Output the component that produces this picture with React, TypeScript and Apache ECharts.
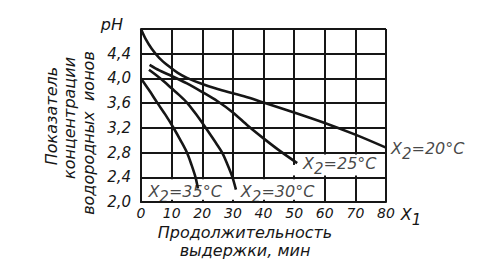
import { useEffect, useRef } from "react";
import * as echarts from "echarts";

// pH of the hydrogen-ion concentration vs. holding time X1 (min) at X2 temperatures
const time20 = [0, 1.5, 3.5, 6, 9, 12, 15, 20, 25, 30, 35, 40, 50, 60, 70, 80];
const ph20 = [4.8, 4.64, 4.48, 4.33, 4.2, 4.09, 4.01, 3.91, 3.83, 3.76, 3.69, 3.61, 3.45, 3.28, 3.09, 2.88];

const time25 = [2.8, 6, 10, 15, 20, 25, 30, 35, 40, 45, 51];
const ph25 = [4.22, 4.13, 4.04, 3.92, 3.78, 3.63, 3.45, 3.23, 3.03, 2.84, 2.63];

const time30 = [2.6, 5, 7.5, 10, 12.5, 15, 18, 21, 24, 26.5, 28.3, 29.8, 31];
const ph30 = [4.14, 4.05, 3.95, 3.84, 3.73, 3.61, 3.42, 3.21, 2.99, 2.8, 2.6, 2.41, 2.2];

const time35 = [0, 2.5, 5.4, 8, 10.5, 13, 15, 16.5, 17.8, 18.6];
const ph35 = [4.0, 3.82, 3.6, 3.41, 3.21, 2.99, 2.8, 2.6, 2.4, 2.22];

const temperatures = [35, 30, 25, 20];

const FONT = "'DejaVu Sans', 'Liberation Sans', sans-serif";
const INK = "#161616";

const pairs = (xs: number[], ys: number[]) => xs.map((x, i) => [x, ys[i]]);

const subRich = {
  m: { fontSize: 16, fontFamily: FONT, fontStyle: "italic", color: INK, lineHeight: 17, verticalAlign: "top" },
  s: { fontSize: 15, fontFamily: FONT, fontStyle: "italic", color: INK, lineHeight: 17, padding: [6, 0, 0, 0], verticalAlign: "top" },
};

const tempLabel = (t: number) => `{m|X}{s|2}{m|=${t}°C}`;

export default function App() {
  const ref = useRef<HTMLDivElement>(null);

  useEffect(() => {
    if (!ref.current) return;
    const chart = echarts.init(ref.current, null, { renderer: "svg" });

    const curve = (xs: number[], ys: number[]) => ({
      type: "line",
      data: pairs(xs, ys),
      smooth: 0.3,
      symbol: "none",
      z: 4,
      lineStyle: { color: INK, width: 2.6 },
    });

    const italic = { fontFamily: FONT, fontStyle: "italic", color: INK };
    const rotatedTitle = (text: string, x: number, y: number) => ({
      type: "text",
      x,
      y,
      rotation: Math.PI / 2,
      style: { text, font: `italic 16px ${FONT}`, fill: INK, align: "center", verticalAlign: "middle" },
    });

    chart.setOption({
      animation: false,
      backgroundColor: "#ffffff",
      grid: { left: 141, right: 97, top: 29, bottom: 64 },
      xAxis: {
        type: "value",
        min: 0,
        max: 80,
        interval: 10,
        axisLine: { show: true, onZero: false, lineStyle: { color: INK, width: 2 } },
        axisTick: { show: false },
        splitLine: { show: true, lineStyle: { color: INK, width: 2 } },
        axisLabel: { ...italic, fontSize: 14, margin: 3, lineHeight: 15 },
        name: "{m|X}{s|1}",
        nameLocation: "end",
        nameGap: 10,
        nameTextStyle: { rich: subRich, verticalAlign: "top", align: "left", padding: [4, 0, 0, 0] },
      },
      yAxis: {
        type: "value",
        min: 2.0,
        max: 4.8,
        interval: 0.4,
        axisLine: { show: true, lineStyle: { color: INK, width: 2 } },
        axisTick: { show: false },
        splitLine: { show: true, lineStyle: { color: INK, width: 2 } },
        axisLabel: {
          ...italic,
          fontSize: 15,
          margin: 10,
          formatter: (v: number) => (v > 4.5 ? "" : v.toFixed(1).replace(".", ",")),
        },
        name: "pH",
        nameLocation: "end",
        nameGap: 5,
        nameTextStyle: { ...italic, fontSize: 16, align: "right", verticalAlign: "middle", padding: [0, 18, 0, 0] },
      },
      series: [
        {
          // white fields behind the curve captions
          type: "line",
          data: [],
          z: 2,
          markArea: {
            silent: true,
            itemStyle: { color: "#ffffff", opacity: 1 },
            data: [
              [{ xAxis: 0.6, yAxis: 2.035 }, { xAxis: 59.4, yAxis: 2.37 }],
              [{ xAxis: 50.6, yAxis: 2.43 }, { xAxis: 79.4, yAxis: 2.77 }],
              [{ xAxis: 49.4, yAxis: 2.43 }, { xAxis: 50.6, yAxis: 2.6 }],
            ],
          },
        },
        curve(time20, ph20),
        curve(time25, ph25),
        curve(time30, ph30),
        curve(time35, ph35),
        {
          type: "scatter",
          symbolSize: 0,
          z: 5,
          data: [
            { value: [14.4, 2.16], label: { formatter: tempLabel(temperatures[0]) } },
            { value: [44.6, 2.16], label: { formatter: tempLabel(temperatures[1]) } },
            { value: [64.9, 2.61], label: { formatter: tempLabel(temperatures[2]) } },
            { value: [80, 2.855], label: { formatter: tempLabel(temperatures[3]), position: "right", distance: 5 } },
          ],
          label: { show: true, position: "inside", rich: subRich },
        },
      ],
      graphic: [
        rotatedTitle("Показатель", 51, 116),
        rotatedTitle("концентрации", 69, 118),
        rotatedTitle("водородных  ионов", 88, 133),
        {
          type: "text",
          x: 245,
          y: 241,
          style: {
            text: "Продолжительность\nвыдержки, мин",
            font: `italic 16px ${FONT}`,
            lineHeight: 18,
            fill: INK,
            align: "center",
            verticalAlign: "middle",
          },
        },
      ],
    });

    return () => chart.dispose();
  }, []);

  return (
    <div
      ref={ref}
      style={{ position: "absolute", left: 0, top: 0, width: 483, height: 266, background: "#ffffff" }}
    />
  );
}
